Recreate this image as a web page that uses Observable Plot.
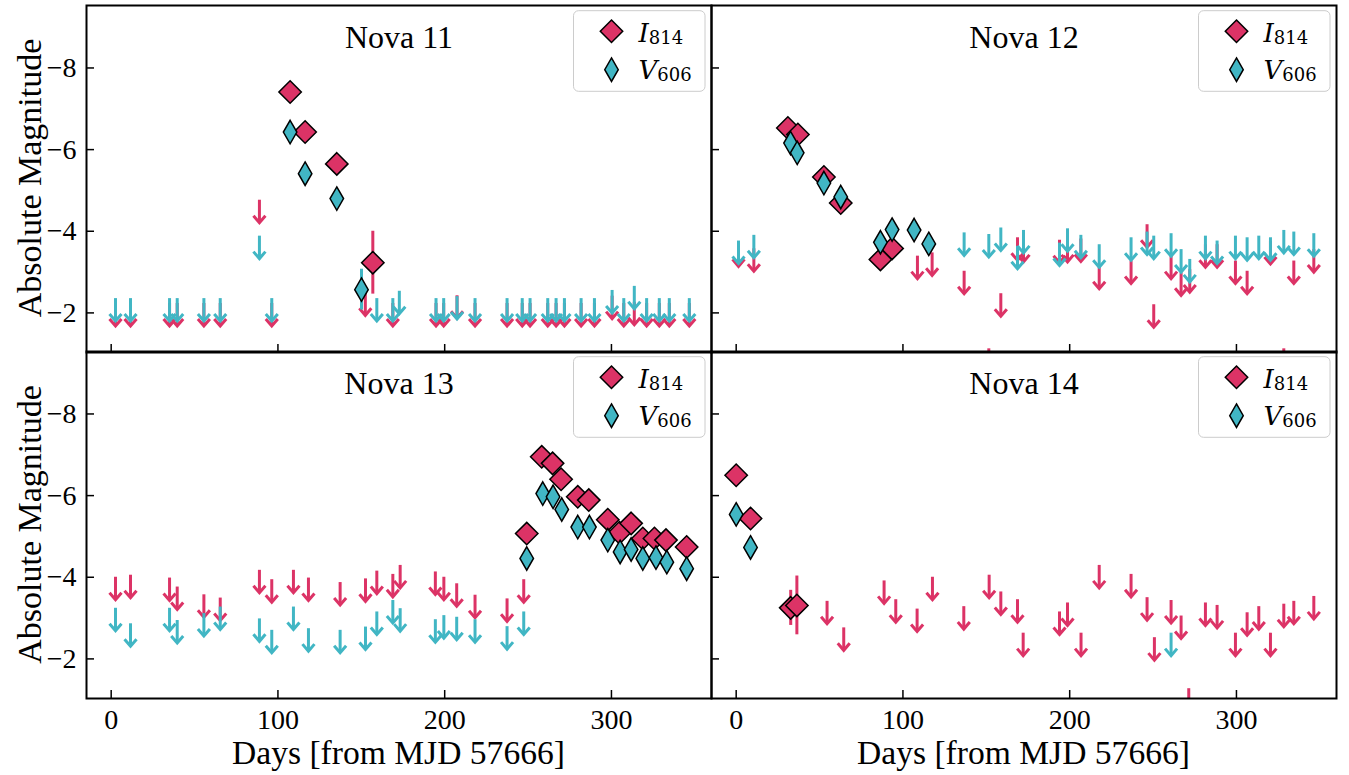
<!DOCTYPE html>
<html><head><meta charset="utf-8">
<script src="https://cdn.jsdelivr.net/npm/d3@7"></script>
<script src="https://cdn.jsdelivr.net/npm/@observablehq/plot@0.6"></script>
<style>
body{margin:0;background:#fff;}
#fig{position:relative;width:1349px;height:775px;overflow:hidden;background:#fff;font-family:'Liberation Serif','Times New Roman','DejaVu Serif',serif;}
#fig > svg{position:absolute;}
#fig text{font-family:'Liberation Serif','Times New Roman','DejaVu Serif',serif;}
#fig text.leg{font-family:'DejaVu Serif',serif;}
</style></head>
<body><div id="fig"></div>
<script>
// ---------- axis ticks / labels ----------
const yTicks = [-8, -6, -4, -2];
const xTicks = [0, 100, 200, 300];
const novaNames = ["Nova 11", "Nova 12", "Nova 13", "Nova 14"];
const bandNames = ["I", "V"];
const bandSubs = ["814", "606"];
const xLabel = "Days [from MJD 57666]";
const yLabel = "Absolute Magnitude";

// ---------- data: detections [day, mag, err], upper limits [day, mag] ----------
const n11_I_det = [[107.3,-7.41,0],[116.3,-6.43,0],[135.3,-5.65,0],[156.9,-3.23,0.77]];
const n11_V_det = [[107.3,-6.43,0],[116.3,-5.41,0],[135.3,-4.80,0],[150.1,-2.57,0.5]];
const n11_I_lim = [[2.6,-2.23],[11.6,-2.23],[35.0,-2.23],[39.6,-2.23],[55.6,-2.23],[65.4,-2.23],[88.9,-4.76],[96.3,-2.23],[152.4,-2.49],[168.9,-2.23],[194.8,-2.23],[199.4,-2.23],[207.4,-2.42],[218.2,-2.23],[237.4,-2.23],[246.5,-2.23],[251.2,-2.23],[261.8,-2.23],[266.8,-2.23],[271.8,-2.23],[281.8,-2.23],[289.8,-2.23],[300.4,-2.41],[307.4,-2.23],[313.7,-2.26],[321.1,-2.23],[328.7,-2.23],[334.7,-2.23],[346.7,-2.23]];
const n11_V_lim = [[2.6,-2.35],[11.6,-2.35],[35.0,-2.35],[39.6,-2.35],[55.6,-2.35],[65.4,-2.35],[88.9,-3.88],[96.3,-2.35],[159.3,-2.35],[168.9,-2.35],[172.8,-2.53],[194.8,-2.35],[199.4,-2.35],[207.4,-2.40],[218.2,-2.35],[237.4,-2.35],[246.5,-2.35],[251.2,-2.35],[261.8,-2.35],[266.8,-2.35],[271.8,-2.35],[281.8,-2.35],[289.8,-2.35],[300.4,-2.55],[307.4,-2.35],[313.7,-2.65],[321.1,-2.35],[328.7,-2.35],[334.7,-2.35],[346.7,-2.35]];

const n12_I_det = [[31.0,-6.53,0],[37.0,-6.37,0],[52.6,-5.33,0],[62.7,-4.69,0],[86.5,-3.31,0],[93.5,-3.58,0]];
const n12_V_det = [[32.6,-6.16,0],[36.6,-5.92,0],[52.6,-5.18,0],[62.7,-4.84,0],[86.5,-3.73,0],[93.5,-4.04,0],[106.7,-4.03,0],[115.5,-3.69,0]];
const n12_I_lim = [[1.4,-3.69],[10.6,-3.57],[108.7,-3.39],[117.5,-3.47],[136.7,-3.02],[151.5,-1.12],[158.7,-2.47],[168.7,-3.84],[172.3,-3.80],[193.9,-3.78],[198.7,-3.80],[206.7,-3.81],[217.7,-3.14],[236.8,-3.27],[246.4,-4.16],[250.4,-2.20],[260.8,-3.39],[266.8,-2.98],[272.0,-3.06],[281.4,-3.67],[288.4,-3.67],[299.4,-3.27],[306.4,-3.02],[320.4,-3.75],[328.4,-1.12],[334.4,-3.27],[346.4,-3.55]];
const n12_V_lim = [[1.4,-3.76],[10.6,-3.90],[136.7,-3.96],[151.5,-3.92],[158.7,-4.08],[168.7,-3.63],[172.3,-4.02],[193.9,-3.71],[198.7,-4.06],[206.7,-3.90],[217.7,-3.67],[236.8,-3.84],[246.4,-3.98],[250.4,-3.88],[260.8,-3.94],[266.8,-3.55],[272.0,-3.31],[281.4,-3.88],[288.4,-3.76],[299.4,-3.88],[306.4,-3.84],[313.4,-3.88],[320.4,-3.84],[328.4,-4.02],[334.4,-3.98],[346.4,-3.94]];

const n13_I_det = [[249.2,-5.07,0],[258.2,-6.95,0],[264.7,-6.79,0],[269.8,-6.40,0],[279.8,-5.97,0],[286.4,-5.89,0],[297.8,-5.41,0],[304.8,-5.09,0],[311.8,-5.32,0],[318.8,-4.95,0],[325.8,-4.95,0],[332.7,-4.91,0],[345.1,-4.74,0]];
const n13_V_det = [[249.2,-4.46,0],[258.8,-6.05,0],[265.0,-5.97,0],[270.2,-5.66,0],[279.8,-5.23,0],[286.8,-5.23,0],[297.8,-4.91,0],[305.2,-4.62,0],[311.8,-4.68,0],[318.8,-4.46,0],[326.7,-4.48,0],[333.2,-4.37,0],[345.1,-4.21,0]];
const n13_I_lim = [[2.6,-4.00],[11.6,-4.05],[35.0,-3.98],[39.6,-3.76],[55.6,-3.57],[65.4,-3.49],[88.9,-4.17],[96.3,-3.94],[109.3,-4.17],[118.3,-3.98],[137.3,-3.87],[152.5,-3.96],[159.3,-4.15],[168.9,-4.07],[173.3,-4.29],[194.4,-4.13],[199.5,-4.00],[207.2,-3.84],[218.2,-3.56],[237.4,-3.47],[247.4,-3.94]];
const n13_V_lim = [[2.6,-3.24],[11.6,-2.86],[35.0,-3.24],[39.6,-2.94],[55.6,-3.11],[65.4,-3.27],[88.9,-2.98],[96.3,-2.70],[109.3,-3.27],[118.3,-2.74],[137.3,-2.70],[152.5,-2.78],[159.3,-3.15],[168.9,-3.43],[173.3,-3.23],[194.4,-2.96],[199.5,-3.06],[207.2,-3.02],[218.2,-2.96],[237.4,-2.79],[247.4,-3.15]];

const n14_I_det = [[0,-6.50,0],[8.6,-5.44,0],[32.7,-3.25,0.43],[36.4,-3.31,0.72]];
const n14_V_det = [[0,-5.54,0],[8.6,-4.73,0]];
const n14_I_lim = [[54.5,-3.41],[64.5,-2.76],[88.7,-3.91],[95.7,-3.45],[108.5,-3.22],[117.7,-4.00],[136.5,-3.28],[151.7,-4.05],[158.7,-3.64],[168.7,-3.45],[172.1,-2.63],[193.9,-3.15],[198.7,-3.37],[206.8,-2.63],[217.7,-4.29],[236.8,-4.07],[246.4,-3.50],[250.8,-2.52],[260.8,-3.43],[266.8,-3.05],[271.4,-1.27],[281.4,-3.37],[288.4,-3.31],[299.4,-2.63],[306.4,-3.13],[313.4,-3.28],[320.4,-2.63],[328.4,-3.34],[334.4,-3.41],[346.4,-3.53]];
const n14_V_lim = [[260.8,-2.63]];

// ---------- styling ----------
const PINK = "#dc3366";
const TEAL = "#41b6c4";
const ARROW = 0.55;          // arrow length in magnitudes
const XDOM = [-14.8, 360];
const YDOM = [-1.03, -9.53];
const PW = 625, PH = 347;
const ML = 90, MR = 12, MT = 12, MB = 70;
const SERIF = "'Liberation Serif', 'Times New Roman', 'DejaVu Serif', serif";
const R_I = 10.1, R_V = 7.1;

const chevron = {draw(ctx) { ctx.moveTo(-6, -7); ctx.lineTo(0, 0); ctx.lineTo(6, -7); }};
const fmt = d => d < 0 ? "\u2212" + Math.abs(d) : String(d);

function bandMarks(det, lim, color, symbol, r) {
  return [
    Plot.ruleX(lim, {x: d => d[0], y1: d => d[1], y2: d => d[1] + ARROW, stroke: color, strokeWidth: 3, clip: true}),
    Plot.dot(lim, {x: d => d[0], y: d => d[1] + ARROW, symbol: chevron, r: 5, fill: "none", stroke: color, strokeWidth: 3, strokeLinejoin: "miter", clip: true}),
    Plot.ruleX(det.filter(d => d[2] > 0), {x: d => d[0], y1: d => d[1] - d[2], y2: d => d[1] + d[2], stroke: color, strokeWidth: 3, clip: true}),
    Plot.dot(det, {x: d => d[0], y: d => d[1], symbol, r, fill: color, fillOpacity: 1, stroke: "black", strokeWidth: 1.5, clip: true})
  ];
}

function panel(title, Idet, Vdet, Ilim, Vlim, showX, showY) {
  return Plot.plot({
    width: PW + ML + MR, height: PH + MT + MB,
    marginLeft: ML, marginRight: MR, marginTop: MT, marginBottom: MB,
    style: {fontFamily: SERIF, fontSize: "28px", background: "transparent", overflow: "visible", color: "black"},
    x: {domain: XDOM},
    y: {domain: YDOM},
    marks: [
      ...bandMarks(Idet, Ilim, PINK, "diamond2", R_I),
      ...bandMarks(Vdet, Vlim, TEAL, "diamond", R_V),
      Plot.text([title], {frameAnchor: "top", dy: 42, lineAnchor: "bottom", fontSize: 32}),
      Plot.axisY(yTicks, {tickSize: -8, tickPadding: 18, strokeWidth: 1.5, fontSize: 28, label: null,
        tickFormat: showY ? fmt : () => ""}),
      Plot.axisX(xTicks, {tickSize: -8, tickPadding: 18.5, strokeWidth: 1.5, fontSize: 28, label: null,
        tickFormat: showX ? fmt : () => ""}),
      Plot.frame({stroke: "black", strokeWidth: 2})
    ]
  });
}

const fig = document.getElementById("fig");
const layout = [
  {x0: 86, y0: 5, title: novaNames[0], I: n11_I_det, V: n11_V_det, Il: n11_I_lim, Vl: n11_V_lim, sx: false, sy: true},
  {x0: 711, y0: 5, title: novaNames[1], I: n12_I_det, V: n12_V_det, Il: n12_I_lim, Vl: n12_V_lim, sx: false, sy: false},
  {x0: 86, y0: 351, title: novaNames[2], I: n13_I_det, V: n13_V_det, Il: n13_I_lim, Vl: n13_V_lim, sx: true, sy: true},
  {x0: 711, y0: 351, title: novaNames[3], I: n14_I_det, V: n14_V_det, Il: n14_I_lim, Vl: n14_V_lim, sx: true, sy: false}
];
for (const p of layout) {
  const svg = panel(p.title, p.I, p.V, p.Il, p.Vl, p.sx, p.sy);
  svg.style.position = "absolute";
  svg.style.left = (p.x0 - ML) + "px";
  svg.style.top = (p.y0 - MT) + "px";
  svg.style.maxWidth = "none";
  fig.appendChild(svg);
}

// ---------- overlay: axis labels and legends ----------
const ov = d3.select(fig).append("svg")
  .attr("width", 1349).attr("height", 775)
  .style("position", "absolute").style("left", "0px").style("top", "0px")
  .style("pointer-events", "none").style("overflow", "visible");

for (const cy of [178, 524.5]) {
  ov.append("text").attr("transform", `translate(41,${cy}) rotate(-90)`)
    .attr("text-anchor", "middle").attr("font-size", 34).text(yLabel);
}
for (const cx of [398.5, 1023.5]) {
  ov.append("text").attr("x", cx).attr("y", 764).attr("text-anchor", "middle")
    .attr("font-size", 33.6).text(xLabel);
}

const symI = d3.symbol(d3.symbolDiamond2, Math.PI * R_I * R_I)();
const symV = d3.symbol(d3.symbolDiamond, Math.PI * R_V * R_V)();
for (const p of layout) {
  const bx = p.x0 + PW - 137.5, by = p.y0 + 5.7;
  const g = ov.append("g").attr("transform", `translate(${bx},${by})`);
  g.append("rect").attr("width", 131.5).attr("height", 80.6).attr("rx", 5)
    .attr("fill", "white").attr("fill-opacity", 0.8).attr("stroke", "#cccccc").attr("stroke-width", 1);
  const rows = [{sym: symI, color: PINK, cy: 20.6, base: 31.3}, {sym: symV, color: TEAL, cy: 59, base: 68}];
  rows.forEach((r, i) => {
    g.append("path").attr("d", r.sym).attr("transform", `translate(38,${r.cy})`)
      .attr("fill", r.color).attr("stroke", "black").attr("stroke-width", 1.5);
    const t = g.append("text").attr("class", "leg").attr("x", 65).attr("y", r.base).attr("font-size", 26);
    t.append("tspan").attr("font-style", "italic").text(bandNames[i]);
    t.append("tspan").attr("font-size", 18).attr("dy", 2.5).text(bandSubs[i]);
  });
}
</script>
</body></html>
